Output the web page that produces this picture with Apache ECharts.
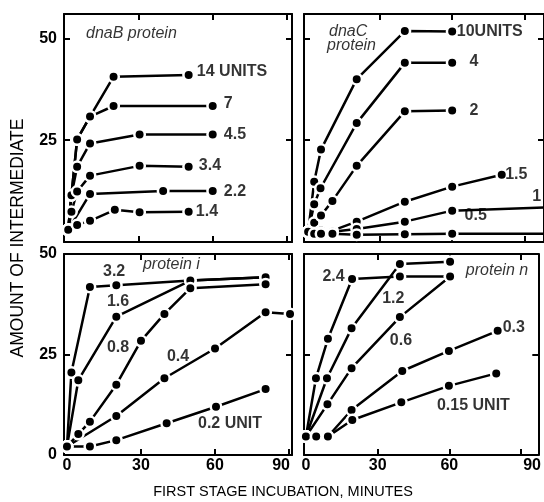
<!DOCTYPE html>
<html><head><meta charset="utf-8">
<script src="https://cdn.jsdelivr.net/npm/echarts@6/dist/echarts.min.js"></script>
<style>html,body{margin:0;padding:0;background:#fff}#c{width:544px;height:502px}</style>
</head><body><div id="c"></div>
<script>
// ---- tick labels ----
const xTickValues = [0, 30, 60, 90];
const yTickValues = [0, 25, 50];

// ---- dnaB protein (top-left): [minutes, amount] ----
const dnaB_14 = [[1.7,3],[3,11.5],[5.3,25.2],[10.5,30.8],[20,40.6],[50.3,41]];
const dnaB_7 = [[1.7,3],[3,11.5],[5.3,25.2],[10.5,30.8],[20,33.4],[60,33.4]];
const dnaB_4_5 = [[1.7,3],[3,11.5],[5.3,18.5],[10.5,24.2],[30.5,26.4],[60,26.4]];
const dnaB_3_4 = [[1.7,3],[3,7.4],[5.3,12.4],[10.5,16.3],[30.5,18.7],[50.3,18.5]];
const dnaB_2_2 = [[1.7,3],[10.5,11.8],[40,12.5],[60,12.5]];
const dnaB_1_4 = [[1.7,3],[5.3,4.2],[10.5,5.2],[20.5,7.9],[30.5,7.3],[50.3,7.4]];

// ---- dnaC protein (top-right) ----
const dnaC_10 = [[0.7,2.5],[3.2,14.8],[6,22.7],[20.7,40],[40.5,51.8],[60,51.7]];
const dnaC_4 = [[0.7,2.5],[3.2,9.3],[5.8,13.2],[20.7,29.2],[40.5,44],[60,44]];
const dnaC_2 = [[0.7,2.5],[3.2,4.7],[6,6.5],[10.7,10.1],[20.7,18.7],[40.5,32.1],[60,32.3]];
const dnaC_1_5 = [[0.7,2.5],[3.2,2.1],[6,2.8],[10.7,2.8],[20.7,5.0],[40.5,9.9],[60,13.6],[80.4,16.5]];
const dnaC_1 = [[0.7,2.5],[3.2,2.1],[6,2.3],[10.7,2.5],[20.7,3.2],[40.5,5.0],[60,7.7]];
const dnaC_1_tail = [[60,7.7],[98,8.5]];
const dnaC_0_5 = [[0.7,2.5],[3.2,2.0],[6,2.0],[10.7,2.0],[20.7,1.8],[40.5,1.9],[60,2.0]];
const dnaC_0_5_tail = [[60,2.0],[98,2.0]];

// ---- protein i (bottom-left) ----
const i_3_2 = [[0,2.1],[1.8,20.5],[9.3,41.8],[20,42.2],[50,43.4],[80.5,44.2]];
const i_1_6 = [[0,2.1],[4.6,18.6],[20,34.4],[50,43.4],[80.5,44.2]];
const i_0_8 = [[0,2.1],[4.6,5.2],[9.3,8.3],[20,17.5],[30,28.4],[39.5,35.1],[50,41.5],[80.5,42.5]];
const i_0_4 = [[0,2.1],[20,9.7],[39.5,19.1],[60,26.5],[80.5,35.5],[90.4,35.1]];
const i_0_2 = [[0,2.1],[9.3,2.1],[20,3.7],[40.4,7.9],[60.4,12.0],[80.5,16.4]];

// ---- protein n (bottom-right) ----
const n_2_4 = [[0,4.6],[4.2,19.1],[9.2,28.9],[19.3,43.8],[39.3,44.4],[60.3,44.4]];
const n_1_2 = [[0,4.6],[8.8,19.1],[19.1,31.5],[39.3,47.5],[60.3,48.1]];
const n_0_6 = [[0,4.6],[9,12.6],[19.1,21.6],[39.3,34.3],[60.3,44.4]];
const n_0_3 = [[0,4.6],[4.3,4.6],[9.2,4.6],[19.1,11.2],[40.3,20.9],[59.8,25.9],[80.2,30.9]];
const n_0_15 = [[0,4.6],[4.3,4.6],[9.2,4.6],[19.4,8.7],[39.9,13.1],[59.8,17.2],[79.6,20.3]];

// ---- annotation texts (data coordinates of each panel) ----
const labelsTL = [[53.6,41.8,'14 UNITS'],[64.5,34.1,'7'],[64.5,26.5,'4.5'],[54.4,18.7,'3.4'],[64.5,12.5,'2.2'],[53.2,7.4,'1.4']];
const namesTL = [[8.9,51.1,'dnaB protein']];
const labelsTR = [[61.9,51.6,'10UNITS'],[67.1,44.2,'4'],[67.1,32.2,'2'],[81.8,16.5,'1.5'],[93,11.1,'1'],[65.1,6.6,'0.5']];
const namesTR = [[9.3,51.6,'dnaC'],[8.5,48.3,'protein']];
const labelsBL = [[14.6,45.5,'3.2'],[16.2,38.1,'1.6'],[16.2,26.6,'0.8'],[40.5,24.4,'0.4'],[53.1,7.7,'0.2 UNIT']];
const namesBL = [[30.8,47.3,'protein i']];
const labelsBR = [[6.9,44.5,'2.4'],[31.9,38.8,'1.2'],[35.1,28.4,'0.6'],[82.3,31.8,'0.3'],[54.8,12.2,'0.15 UNIT']];
const namesBR = [[66.9,46,'protein n']];

const FONT = 'Liberation Sans, Arial, Helvetica, sans-serif';
const chart = echarts.init(document.getElementById('c'), null, {renderer:'canvas'});

const grids = [
  {left:64, top:14, width:228, height:228},
  {left:304, top:14, width:243, height:228},
  {left:64, top:254, width:228, height:201},
  {left:304, top:254, width:243, height:201}
];
const xRanges = [[0,92],[-1,97.8],[-1.2,91.2],[-0.8,97.2]];
const yRanges = [[0,56],[0,56],[0,50],[0,50]];

const xAxes = [], yAxes = [];
const axisLine = {show:true, onZero:false, lineStyle:{color:'#000', width:2}};
const tick = (vals)=>({show:true, inside:true, length:6, customValues:vals, lineStyle:{color:'#000', width:2}});
for (let g=0; g<4; g++){
  const bottomRow = g>=2, leftCol = (g%2===0);
  xAxes.push({gridIndex:g, type:'value', position:'bottom', min:xRanges[g][0], max:xRanges[g][1],
    axisLine, axisTick:tick([30,60,90]), splitLine:{show:false},
    axisLabel:{show:bottomRow, customValues:xTickValues, margin:3, color:'#000', fontFamily:FONT, fontWeight:'bold', fontSize:16,
      formatter:(v)=> v===90 ? '{s|90}' : String(v),
      rich:{s:{fontFamily:FONT, fontWeight:'bold', fontSize:16, color:'#000', padding: leftCol?[0,16,0,0]:[0,0,0,22]}}}});
  xAxes.push({gridIndex:g, type:'value', position:'top', min:xRanges[g][0], max:xRanges[g][1],
    axisLine, axisTick:tick([30,60,90]), splitLine:{show:false}, axisLabel:{show:false}});
  yAxes.push({gridIndex:g, type:'value', position:'left', min:yRanges[g][0], max:yRanges[g][1],
    axisLine, axisTick:tick([25,50]), splitLine:{show:false},
    axisLabel:{show:leftCol, customValues: bottomRow ? yTickValues : yTickValues.slice(1), margin:7, color:'#000', fontFamily:FONT, fontWeight:'bold', fontSize:16}});
  yAxes.push({gridIndex:g, type:'value', position:'right', min:yRanges[g][0], max:yRanges[g][1],
    axisLine, axisTick:tick([25,50]), splitLine:{show:false}, axisLabel:{show:false}});
}

const series = [];
function addLine(g, data, marker){
  series.push({type:'line', xAxisIndex:g*2, yAxisIndex:g*2, data, symbol: marker===false?'none':'circle', symbolSize:10.5,
    showAllSymbol:true, animation:false, z: marker===false?2:3,
    lineStyle:{color:'#000', width:2.5}, itemStyle:{color:'#000', borderColor:'#fff', borderWidth:2.5}});
}
[dnaB_14,dnaB_7,dnaB_4_5,dnaB_3_4,dnaB_2_2,dnaB_1_4].forEach(d=>addLine(0,d));
addLine(1,dnaC_1_tail,false); addLine(1,dnaC_0_5_tail,false);
[dnaC_10,dnaC_4,dnaC_2,dnaC_1_5,dnaC_1,dnaC_0_5].forEach(d=>addLine(1,d));
[i_3_2,i_1_6,i_0_8,i_0_4,i_0_2].forEach(d=>addLine(2,d));
[n_2_4,n_1_2,n_0_6,n_0_3,n_0_15].forEach(d=>addLine(3,d));

function addText(g, data, italic){
  series.push({type:'scatter', xAxisIndex:g*2, yAxisIndex:g*2, data, symbolSize:0, animation:false, silent:true, z:5,
    label:{show:true, position:[0,0], align:'left', verticalAlign:'middle', color:'#000', fontFamily:FONT,
      fontSize:16, fontWeight: italic?'normal':'bold', fontStyle: italic?'italic':'normal',
      formatter:(p)=>p.data[2]}});
}
addText(0,labelsTL,false); addText(0,namesTL,true);
addText(1,labelsTR,false); addText(1,namesTR,true);
addText(2,labelsBL,false); addText(2,namesBL,true);
addText(3,labelsBR,false); addText(3,namesBR,true);

chart.setOption({
  animation:false,
  backgroundColor:'#fff',
  grid: grids.map(g=>Object.assign({containLabel:false}, g)),
  xAxis: xAxes, yAxis: yAxes, series,
  graphic:[
    {type:'text', x:18, y:238, rotation:Math.PI/2, style:{text:'AMOUNT OF INTERMEDIATE', fill:'#000', font:'17.5px '+FONT, align:'center', verticalAlign:'middle'}},
    {type:'text', x:283, y:492, style:{text:'FIRST STAGE INCUBATION, MINUTES', fill:'#000', font:'14.5px '+FONT, align:'center', verticalAlign:'middle'}}
  ]
});
</script></body></html>
